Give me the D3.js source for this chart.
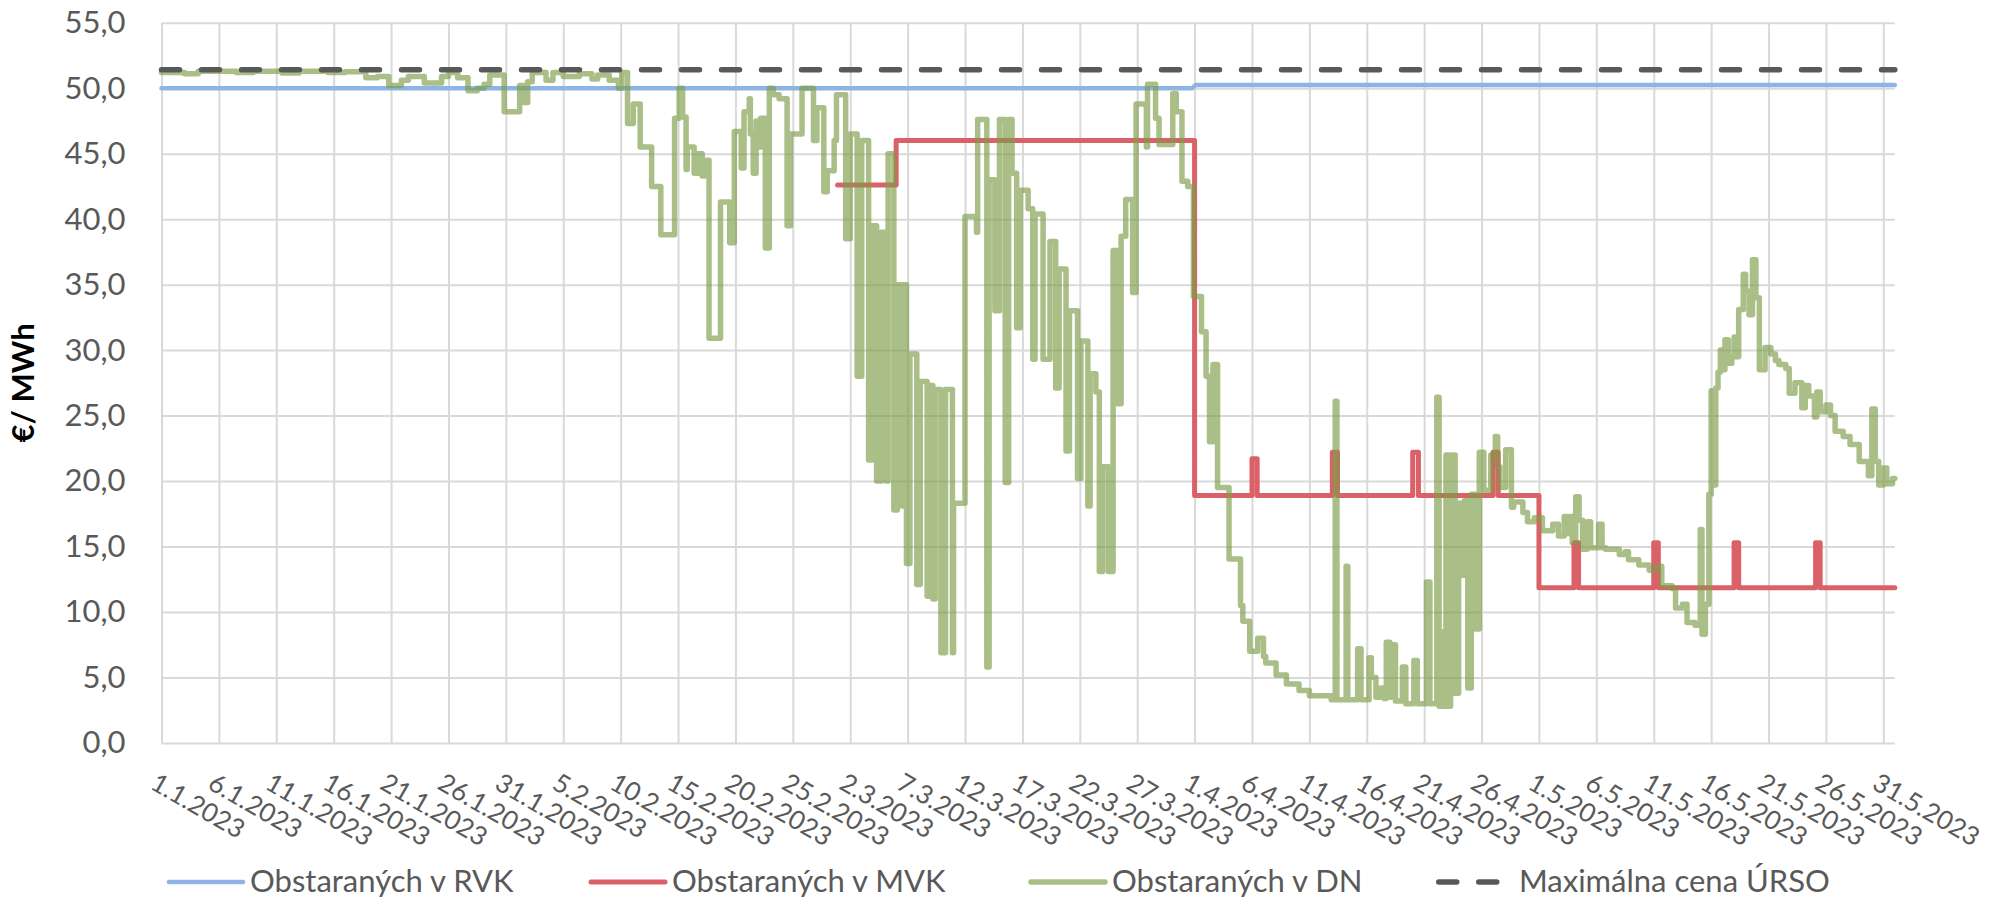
<!DOCTYPE html>
<html>
<head>
<meta charset="utf-8">
<script src="https://cdnjs.cloudflare.com/ajax/libs/d3/7.8.5/d3.min.js"></script>
<style>
  html, body { margin: 0; padding: 0; background: #fff; }
  svg { display: block; font-family: Lato, "Open Sans", sans-serif; }
  .axis text { fill: #595959; }
  .axis line { stroke: #d9d9d9; stroke-width: 2; }
  .axis path.domain { display: none; }
</style>
</head>
<body>
<svg id="chart"></svg>
<script>
const width = 2005;
const height = 899;

// x axis: day offset from 1.1.2023, one label every 5 days
const xTickLabels = ["1.1.2023", "6.1.2023", "11.1.2023", "16.1.2023", "21.1.2023", "26.1.2023",
  "31.1.2023", "5.2.2023", "10.2.2023", "15.2.2023", "20.2.2023", "25.2.2023", "2.3.2023",
  "7.3.2023", "12.3.2023", "17.3.2023", "22.3.2023", "27.3.2023", "1.4.2023", "6.4.2023",
  "11.4.2023", "16.4.2023", "21.4.2023", "26.4.2023", "1.5.2023", "6.5.2023", "11.5.2023",
  "16.5.2023", "21.5.2023", "26.5.2023", "31.5.2023"];
const yTicks = [0, 5, 10, 15, 20, 25, 30, 35, 40, 45, 50, 55];

const seriesNames = ["Obstaraných v RVK", "Obstaraných v MVK", "Obstaraných v DN", "Maximálna cena ÚRSO"];

// [day, €/MWh]
const rvk = [[0, 50.0], [89.8, 50.0], [90.1, 50.25], [151, 50.25]];
const ursoMax = [[0, 51.4], [151, 51.4]];
const mvk = [[58.9, 42.6], [64, 46.0], [90, 18.9], [95, 21.7], [95.45, 18.9], [102, 22.2], [102.45, 18.9],
  [109, 22.2], [109.5, 18.9], [116, 22.2], [116.45, 18.9], [120, 11.85], [123.05, 15.3], [123.45, 11.85],
  [130, 15.3], [130.4, 11.85], [137, 15.3], [137.4, 11.85], [144.1, 15.3], [144.5, 11.85], [151, 11.85]];
const dn = [
  [0, 51.2], [2, 51.1], [3.2, 51.3], [6.5, 51.2], [8, 51.3], [10.5, 51.15], [12, 51.3], [14.5, 51.2],
  [16, 51.25], [17.8, 50.8], [18.8, 50.9], [19.8, 50.2], [20.9, 50.6], [21.5, 50.9], [22.9, 50.4],
  [24.4, 50.9], [25, 51.2], [25.8, 50.8], [26.7, 49.8], [27.5, 50.0], [28.1, 50.3], [28.6, 51.0],
  [29.85, 48.2], [31.2, 50.2], [31.6, 48.9], [31.9, 50.5], [32.3, 51.2], [33.5, 50.6], [34.1, 51.2],
  [35, 50.9], [36.4, 51.1], [37.5, 50.7], [38, 51.0], [39, 50.6], [39.8, 50.0], [40.1, 51.2],
  [40.6, 47.3], [41.1, 48.8], [41.7, 45.5], [42.7, 42.5], [43.5, 38.8], [44.7, 47.7], [45.1, 50.0],
  [45.4, 47.8], [45.7, 43.8], [45.8, 45.5], [46.4, 43.5], [46.7, 45.0], [47.1, 43.3], [47.4, 44.5],
  [47.7, 30.9], [48.7, 41.3], [49.5, 38.2], [49.9, 46.7], [50.5, 43.9], [50.75, 48.2], [51.2, 49.2],
  [51.3, 46.5], [51.55, 43.5], [51.8, 47.5], [52.05, 45.5], [52.2, 47.7], [52.6, 37.8], [52.95, 50.0],
  [53.3, 49.5], [53.8, 49.2], [54.5, 39.5], [54.8, 46.5], [55.8, 50.0], [56.8, 46.0], [57.1, 48.5],
  [57.7, 42.1], [58.0, 43.7], [58.6, 46.0], [58.8, 49.5], [59.6, 38.5], [60.0, 46.5], [60.6, 28.0],
  [61.0, 46.0], [61.6, 21.6], [61.9, 39.5], [62.3, 20.0], [62.7, 39.0], [63.1, 20.0], [63.3, 45.0],
  [63.8, 17.8], [64.1, 35.0], [64.5, 18.1], [64.6, 35.0], [64.9, 13.7], [65.2, 29.7], [65.8, 12.1],
  [66.1, 27.6], [66.7, 11.2], [66.9, 27.3], [67.2, 11.0], [67.4, 27.0], [67.9, 6.9], [68.3, 27.0],
  [68.9, 6.9], [69.0, 18.3], [70.0, 40.2], [71.0, 39.0], [71.1, 47.6], [71.9, 5.8], [72.1, 43.0],
  [72.6, 33.0], [73.0, 47.6], [73.5, 19.9], [73.8, 47.6], [74.1, 43.5], [74.5, 31.7], [74.8, 42.2],
  [75.5, 40.8], [75.9, 29.3], [76.1, 40.4], [76.8, 29.3], [77.4, 38.3], [77.9, 27.1], [78.2, 36.2],
  [78.8, 22.3], [79.1, 33.0], [79.8, 20.2], [80.1, 30.7], [80.7, 18.1], [80.9, 28.2], [81.4, 26.8],
  [81.7, 13.1], [82.0, 21.1], [82.5, 13.1], [82.9, 37.6], [83.3, 25.9], [83.6, 38.7], [84.0, 41.5],
  [84.6, 34.4], [84.9, 48.8], [85.8, 45.5], [85.9, 50.3], [86.6, 47.7], [86.9, 45.7], [88.1, 49.6],
  [88.4, 48.2], [88.9, 42.9], [89.4, 42.5], [89.9, 34.1], [90.6, 31.4], [91.0, 28.0], [91.3, 23.0],
  [91.6, 28.9], [92.0, 19.5], [93.0, 14.05], [94.0, 10.5], [94.2, 9.3], [94.8, 7.0], [95.5, 8.0],
  [96.0, 6.6], [96.2, 6.1], [97.1, 5.2], [98.0, 4.5], [99.1, 4.0], [100.0, 3.6], [101.9, 3.3],
  [102.25, 26.1], [102.4, 3.3], [103.2, 13.5], [103.35, 3.3], [104.2, 7.2], [104.5, 3.3], [105.2, 6.5],
  [105.4, 5.0], [105.8, 3.5], [106.2, 4.2], [106.5, 3.4], [106.7, 7.7], [107.0, 3.5], [107.1, 7.5],
  [107.5, 3.2], [108.1, 5.8], [108.4, 3.0], [109.1, 6.3], [109.4, 3.0], [110.2, 12.3], [110.5, 3.0],
  [111.1, 26.4], [111.3, 2.8], [111.5, 8.5], [111.7, 2.8], [111.9, 22.0], [112.1, 2.8], [112.3, 22.0],
  [112.7, 3.8], [113.0, 18.3], [113.3, 12.8], [113.5, 18.5], [113.8, 4.2], [114.1, 19.0], [114.5, 8.7],
  [114.8, 22.2], [115.2, 19.3], [115.8, 22.0], [116.2, 23.4], [116.4, 21.1], [116.6, 19.5], [117.1, 22.4],
  [117.6, 18.0], [117.8, 18.4], [118.6, 17.6], [119.0, 16.9], [119.6, 17.2], [120.3, 16.2], [120.7, 16.2],
  [121.2, 16.7], [121.7, 15.8], [122.2, 17.3], [122.5, 16.0], [122.7, 17.3], [122.9, 15.3], [123.2, 18.8],
  [123.5, 17.0], [123.8, 14.8], [124.2, 16.9], [124.5, 14.9], [125.2, 16.7], [125.5, 14.9], [125.8, 14.8],
  [127.0, 14.4], [127.5, 14.6], [127.8, 14.0], [128.7, 13.6], [129.6, 13.2], [130.2, 13.5], [130.7, 12.0],
  [131.6, 11.8], [131.9, 10.3], [132.5, 10.6], [132.9, 9.2], [133.6, 9.0], [134.05, 16.3], [134.2, 8.3],
  [134.5, 10.6], [134.8, 19.0], [135.0, 26.9], [135.1, 19.7], [135.4, 27.1], [135.6, 28.3], [135.8, 30.0],
  [136.0, 28.5], [136.2, 30.8], [136.5, 29.0], [136.8, 29.5], [137.0, 31.0], [137.2, 29.5], [137.4, 33.1],
  [137.8, 35.8], [138.0, 34.5], [138.3, 32.7], [138.6, 36.9], [138.9, 34.0], [139.2, 28.5], [139.7, 30.2],
  [140.2, 29.7], [140.6, 29.2], [140.9, 28.9], [141.5, 28.6], [141.8, 26.7], [142.3, 27.5], [142.9, 25.6],
  [143.2, 27.3], [143.5, 26.5], [144.0, 24.9], [144.2, 26.8], [144.5, 25.3], [145.0, 25.8], [145.4, 25.0],
  [145.8, 23.8], [146.5, 23.4], [147.1, 22.8], [147.9, 21.5], [148.3, 21.5], [148.7, 20.4], [149.0, 25.5],
  [149.3, 21.5], [149.6, 19.7], [150.0, 21.0], [150.3, 19.8], [150.8, 20.2], [151, 20.2]];

const svg = d3.select("#chart")
  .attr("width", width)
  .attr("height", height);

svg.append("rect").attr("width", width).attr("height", height).attr("fill", "#fff");

const x = d3.scaleLinear().domain([0, 151]).range([161.5, 1894.8]);
const y = d3.scaleLinear().domain([0, 55]).range([743, 22.7]);

// gridlines + y labels
svg.append("g")
  .attr("class", "axis")
  .attr("transform", `translate(${x(0)},0)`)
  .call(d3.axisLeft(y)
    .tickValues(yTicks)
    .tickFormat(d => d.toFixed(1).replace(".", ","))
    .tickSize(-(x(151) - x(0)))
    .tickPadding(36))
  .selectAll("text")
    .attr("font-size", 31)
    .attr("font-family", "Lato");

const xAxis = svg.append("g")
  .attr("class", "axis")
  .attr("transform", `translate(0,${y(0)})`)
  .call(d3.axisBottom(x)
    .tickValues(xTickLabels.map((_, i) => i * 5))
    .tickFormat((d, i) => xTickLabels[i])
    .tickSize(-(y(0) - y(55))));

xAxis.selectAll("text")
  .attr("y", null)
  .attr("dy", null)
  .attr("text-anchor", "start")
  .attr("font-size", 26)
  .attr("font-family", "Lato")
  .attr("transform", "translate(-13,45) rotate(30)");

// y title
svg.append("text")
  .attr("transform", `translate(34,${(y(0) + y(55)) / 2}) rotate(-90)`)
  .attr("text-anchor", "middle")
  .attr("font-size", 31)
  .attr("font-weight", "bold")
  .attr("fill", "#000")
  .text("€/ MWh");

const line = d3.line().x(d => x(d[0])).y(d => y(d[1]));
const stepLine = d3.line().x(d => x(d[0])).y(d => y(d[1])).curve(d3.curveStepAfter);

const styles = [
  { color: "#8eb4e3", width: 4.5, opacity: 1, dash: null },
  { color: "#db6168", width: 5, opacity: 1, dash: null },
  { color: "#7c9c46", width: 5.5, opacity: 0.65, dash: null },
  { color: "#595959", width: 5.5, opacity: 1, dash: "18,22" }
];

const plot = svg.append("g");
[[rvk, line], [mvk, stepLine], [dn, stepLine], [ursoMax, line]].forEach(([data, gen], i) => {
  plot.append("path")
    .datum(data)
    .attr("d", gen)
    .attr("fill", "none")
    .attr("stroke", styles[i].color)
    .attr("stroke-width", styles[i].width)
    .attr("stroke-opacity", styles[i].opacity)
    .attr("stroke-linejoin", "round")
    .attr("stroke-linecap", "round")
    .attr("stroke-dasharray", styles[i].dash);
});

// legend
const legendX = [167, 589, 1029, 1436];
const legendY = 882;
const legend = svg.append("g");
seriesNames.forEach((name, i) => {
  const s = styles[i];
  legend.append("line")
    .attr("x1", legendX[i] + (s.dash ? 2.75 : 2))
    .attr("x2", legendX[i] + (s.dash ? 64 : 76))
    .attr("y1", legendY).attr("y2", legendY)
    .attr("stroke", s.color)
    .attr("stroke-width", s.width)
    .attr("stroke-opacity", s.opacity)
    .attr("stroke-linecap", "round")
    .attr("stroke-dasharray", s.dash);
  legend.append("text")
    .attr("x", legendX[i] + 83)
    .attr("y", 892)
    .attr("font-size", 31)
    .attr("fill", "#595959")
    .text(name);
});
</script>
</body>
</html>
